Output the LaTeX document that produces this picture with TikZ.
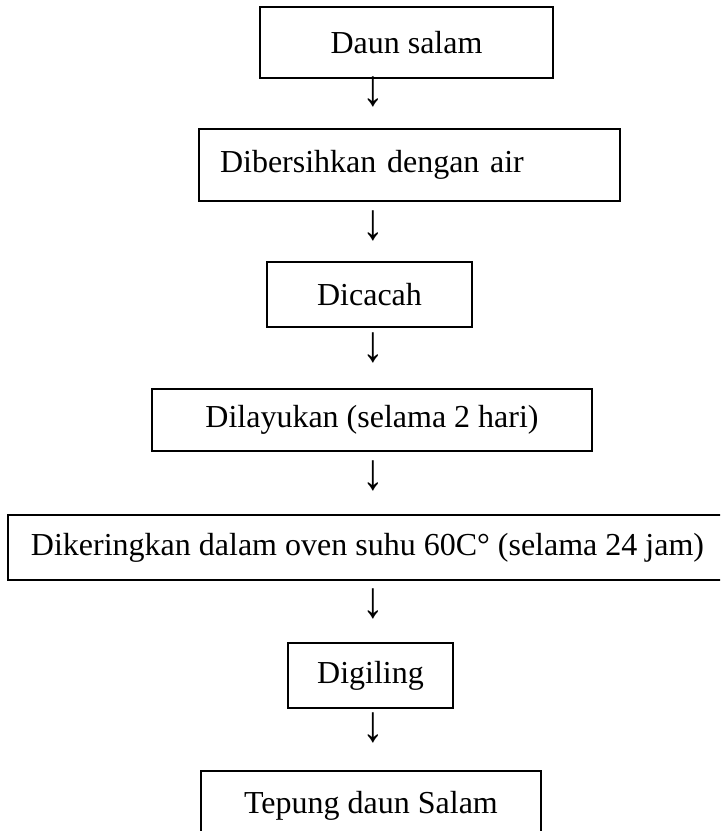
\documentclass[tikz,border=0pt]{standalone}
\usepackage{fontspec}
\setmainfont{Liberation Serif}

\begin{document}
\begin{tikzpicture}[
                x=0.5pt, y=-0.5pt,
                every node/.style={font=\fontsize{16}{19}\selectfont, inner sep=0pt},
                stepbox/.style={rectangle, draw=black, line width=1pt, fill=white},
                downmark/.style={font=\fontsize{16}{19}\selectfont},
                ]

                % page size of the scan
                \useasboundingbox (0,0) rectangle (720,831);
                \clip (0,0) rectangle (720,831);

                % process steps, top to bottom
                \node [stepbox, minimum width=146.5pt, minimum height=35.5pt] (daun) at (406.5,42.5) {Daun salam};
                \node [stepbox, text width=189.5pt, inner xsep=10.5pt, minimum height=36pt, align=left] (bersih) at (409.5,165) {Dibersihkan dengan air};
                \node [stepbox, minimum width=102.5pt, minimum height=32.5pt] (cacah) at (369.5,294.5) {Dicacah};
                \node [stepbox, minimum width=220pt, minimum height=31pt] (layu) at (372,420) {Dilayukan (selama 2 hari)};
                \node [stepbox, minimum width=359.5pt, minimum height=32.5pt] (kering) at (367.5,547.5) {Dikeringkan dalam oven suhu 60C° (selama 24 jam)};
                \node [stepbox, minimum width=82.5pt, minimum height=32.5pt] (giling) at (370.5,675.5) {Digiling};
                \node [stepbox, minimum width=170pt, minimum height=35pt] (tepung) at (371,806) {Tepung daun Salam};

                % arrow signs between the steps
                \node [downmark] (down1) at (373,92) {\scalebox{1.35}[1.6]{↓}};
                \node [downmark] (down2) at (373,226) {\scalebox{1.35}[1.6]{↓}};
                \node [downmark] (down3) at (373,348) {\scalebox{1.35}[1.6]{↓}};
                \node [downmark] (down4) at (373,476) {\scalebox{1.35}[1.6]{↓}};
                \node [downmark] (down5) at (373,604) {\scalebox{1.35}[1.6]{↓}};
                \node [downmark] (down6) at (373,728) {\scalebox{1.35}[1.6]{↓}};

            \end{tikzpicture}
\end{document}
